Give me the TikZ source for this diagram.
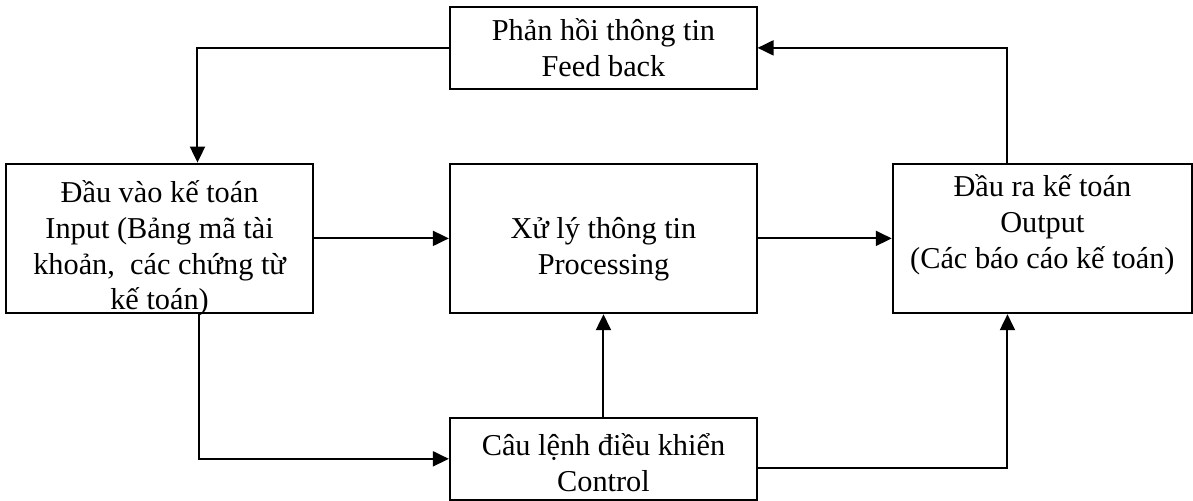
\documentclass[tikz,border=0pt]{standalone}
\usepackage{fontspec}
\setmainfont{Liberation Serif}
\usetikzlibrary{arrows.meta,positioning,calc}

\begin{document}
\begin{tikzpicture}[>={Triangle[length=8pt,width=7.5pt]}, line width=1pt,
    font=\fontsize{15.2}{18}\selectfont,
    b/.style={draw, align=center, inner sep=0pt, minimum width=154pt, minimum height=75pt},
    bs/.style={b, minimum height=41pt},
    t/.style={align=center, anchor=center, inner sep=0pt}]
  \node[b, label={[t, name=Pt, yshift=-5.5pt]center:{Xử lý thông tin\\ Processing}}] (P) {};
  \node[bs, minimum width=153.5pt, above=36.5pt of P] (F) {Phản hồi thông tin\\ Feed back};
  \node[bs, below=51.5pt of P, label={[t, name=Ct, yshift=-2pt]center:{Câu lệnh điều khiển\\ Control}}] (C) {};
  \node[b, left=67.5pt of P, label={[t, name=It, yshift=-5pt]center:{Đầu vào kế toán\\ Input (Bảng mã tài\\ khoản,~ các chứng từ\\ kế toán)}}] (I) {};
  \node[b, minimum width=150pt, right=67pt of P, label={[t, name=Ot, yshift=7pt]center:{Đầu ra kế toán\\ Output\\ (Các báo cáo kế toán)}}] (O) {};
  \useasboundingbox ($(P.center)+(-302.5pt,119.5pt)$) rectangle ($(P.center)+(294pt,-130.5pt)$);
  % ports on the box edges
  \coordinate (Iin) at ($(I.north west)+(96.5pt,0)$);
  \coordinate (Iout) at ($(I.south west)+(97.5pt,0)$);
  \coordinate (Oin) at ($(O.south west)+(58pt,0)$);
  \coordinate (Oout) at ($(O.north west)+(58pt,0)$);
  \coordinate (Cout) at ($(C.east)+(0,-4.5pt)$);
  \draw[->] (F.west) -| (Iin);
  \draw[->] (Oout) |- (F.east);
  \draw[->] (I) -- (P);
  \draw[->] (P) -- (O);
  \draw[->] (Iout) |- (C.west);
  \draw[->] (C) -- (P);
  \draw[->] (Cout) -| (Oin);
\end{tikzpicture}
\end{document}
